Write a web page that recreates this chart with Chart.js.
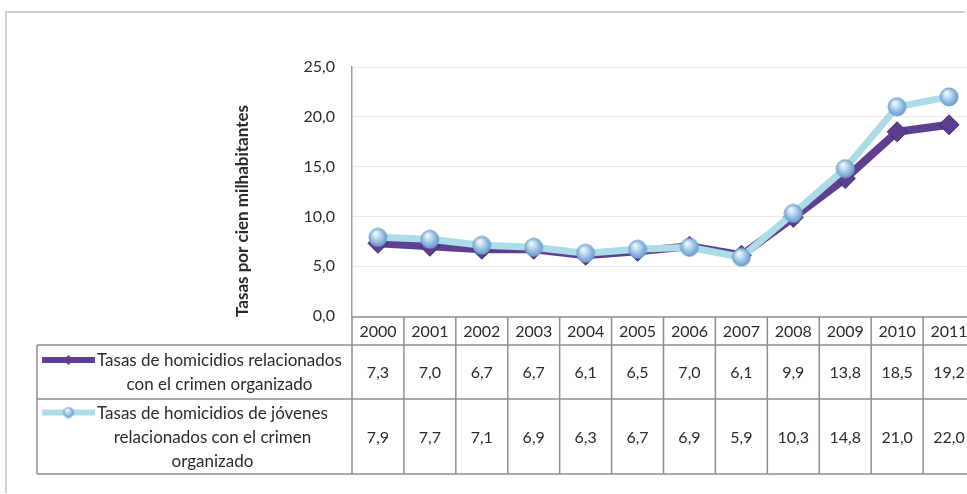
<!DOCTYPE html>
<html><head><meta charset="utf-8">
<script src="https://cdn.jsdelivr.net/npm/chart.js@4/dist/chart.umd.min.js"></script>
<style>
html,body{margin:0;padding:0;background:#fff;overflow:hidden;width:967px;height:494px;}
#frame{position:absolute;left:5px;top:11px;width:958px;height:480px;border-top:2px solid #d2ceca;border-left:2px solid #d2ceca;}
#c{position:absolute;left:0;top:0;}
</style></head><body>
<div id="frame"></div>
<canvas id="c" width="980" height="494"></canvas>
<script>
const years = ['2000','2001','2002','2003','2004','2005','2006','2007','2008','2009','2010','2011'];
const ratesOrgCrime = [7.3,7.0,6.7,6.7,6.1,6.5,7.0,6.1,9.9,13.8,18.5,19.2];
const ratesYouth = [7.9,7.7,7.1,6.9,6.3,6.7,6.9,5.9,10.3,14.8,21.0,22.0];
const seriesNames = ['Tasas de homicidios relacionados con el crimen organizado',
                     'Tasas de homicidios de jóvenes relacionados con el crimen organizado'];
const seriesNameLines = [
  ['Tasas de homicidios relacionados','con el crimen organizado'],
  ['Tasas de homicidios de jóvenes','relacionados con el crimen','organizado']
];
const yTickValues = [0,5,10,15,20,25];
const yAxisTitle = 'Tasas por cien milhabitantes';

const FONT = 'Lato, "Open Sans", sans-serif';
const TXT = '#2b2b2b';
const PURPLE = '#5f3f92';
const LIGHTBLUE = '#acdce8';
const fmt = v => v.toFixed(1).replace('.', ',');

function makeBall(d){
  const c = document.createElement('canvas');
  c.width = d; c.height = d;
  const g = c.getContext('2d');
  const r = d/2;
  const grad = g.createRadialGradient(r*0.75, r*0.6, r*0.1, r, r, r);
  grad.addColorStop(0, '#eef7fd');
  grad.addColorStop(0.45, '#a8cdec');
  grad.addColorStop(1, '#5f90c4');
  g.beginPath(); g.arc(r, r, r-1, 0, Math.PI*2);
  g.fillStyle = grad; g.fill();
  g.lineWidth = 1; g.strokeStyle = '#7aa3cc'; g.stroke();
  return c;
}
const ball = makeBall(20);
const smallBall = makeBall(12);

const tablePlugin = {
  id: 'dataTable',
  afterDraw(chart){
    const {ctx, chartArea: ca, scales: {x}} = chart;
    const n = years.length;
    const colW = (ca.right - ca.left) / n;
    const top = ca.bottom + 1;
    const hH = 28, r1 = 54, r2 = 75;
    const legL = 37;
    const y1 = top + hH, y2 = y1 + r1, y3 = y2 + r2;
    ctx.save();
    // y axis title
    ctx.save();
    ctx.translate(ca.left - 109, 211);
    ctx.rotate(-Math.PI/2);
    ctx.font = 'bold 17px ' + FONT;
    ctx.fillStyle = TXT;
    ctx.textAlign = 'center'; ctx.textBaseline = 'middle';
    ctx.fillText(yAxisTitle, 0, 0);
    ctx.restore();

    ctx.strokeStyle = '#938d89'; ctx.lineWidth = 1.5;
    ctx.beginPath();
    ctx.moveTo(ca.left, top); ctx.lineTo(ca.right, top);
    [y1, y2, y3].forEach(yy => { ctx.moveTo(legL, yy); ctx.lineTo(ca.right, yy); });
    for (let i = 0; i <= n; i++) {
      const xx = ca.left + i * colW;
      ctx.moveTo(xx, top); ctx.lineTo(xx, y3);
    }
    ctx.moveTo(legL, y1); ctx.lineTo(legL, y3);
    ctx.stroke();

    ctx.fillStyle = TXT;
    ctx.font = '16px ' + FONT;
    ctx.textAlign = 'center'; ctx.textBaseline = 'middle';
    const series = [ratesOrgCrime, ratesYouth];
    const rowMid = [(y1 + y2) / 2, (y2 + y3) / 2];
    years.forEach((yr, i) => {
      const cx = x.getPixelForValue(i);
      ctx.fillText(yr, cx, top + hH / 2 + 1);
      series.forEach((s, k) => ctx.fillText(fmt(s[i]), cx, rowMid[k] + 1));
    });

    // legend cells
    const keyL = legL + 5, keyR = 95;
    const lh = 24;
    ctx.font = '17px ' + FONT;
    seriesNameLines.forEach((lines, k) => {
      const startY = rowMid[k] - (lines.length - 1) * lh / 2;
      const textC = keyR + 2 + ctx.measureText(lines[0]).width / 2;
      ctx.fillStyle = TXT;
      lines.forEach((ln, j) => ctx.fillText(ln, textC, startY + j * lh + 1));
      const ky = startY;
      ctx.beginPath();
      ctx.lineWidth = 6;
      ctx.strokeStyle = k === 0 ? PURPLE : LIGHTBLUE;
      ctx.moveTo(keyL, ky); ctx.lineTo(keyR, ky); ctx.stroke();
      const kc = (keyL + keyR) / 2;
      if (k === 0) {
        ctx.fillStyle = PURPLE;
        ctx.beginPath();
        ctx.moveTo(kc, ky - 5); ctx.lineTo(kc + 5, ky); ctx.lineTo(kc, ky + 5); ctx.lineTo(kc - 5, ky);
        ctx.closePath(); ctx.fill();
      } else {
        ctx.drawImage(smallBall, kc - 6, ky - 6);
      }
    });
    ctx.restore();
  }
};

new Chart(document.getElementById('c'), {
  type: 'line',
  data: {
    labels: years,
    datasets: [
      {
        label: seriesNames[0], data: ratesOrgCrime, order: 1,
        borderColor: PURPLE, borderWidth: 8, backgroundColor: PURPLE,
        pointStyle: 'rectRot', pointRadius: 10, pointBackgroundColor: '#5d3d8f',
        pointBorderColor: '#45296f', pointBorderWidth: 1, tension: 0
      },
      {
        label: seriesNames[1], data: ratesYouth, order: 0,
        borderColor: LIGHTBLUE, borderWidth: 7, backgroundColor: LIGHTBLUE,
        pointStyle: ball, pointRadius: 10, tension: 0
      }
    ]
  },
  options: {
    responsive: false, maintainAspectRatio: false, animation: false,
    layout: { autoPadding: false, padding: { top: 67, bottom: 178, left: 0, right: 5 } },
    plugins: { legend: { display: false }, tooltip: { enabled: false } },
    scales: {
      x: { type: 'category', offset: true, display: false },
      y: {
        min: 0, max: 25,
        afterFit(s) { s.width = 352; },
        afterBuildTicks(s) { s.ticks = yTickValues.map(v => ({ value: v })); },
        ticks: { callback: v => fmt(v), font: { family: FONT, size: 16 }, color: TXT, padding: 17 },
        grid: { color: '#efe8df', lineWidth: 1, drawTicks: false },
        border: { display: true, color: '#a19b97', width: 1.5 }
      }
    }
  },
  plugins: [tablePlugin]
});
</script>
</body></html>
